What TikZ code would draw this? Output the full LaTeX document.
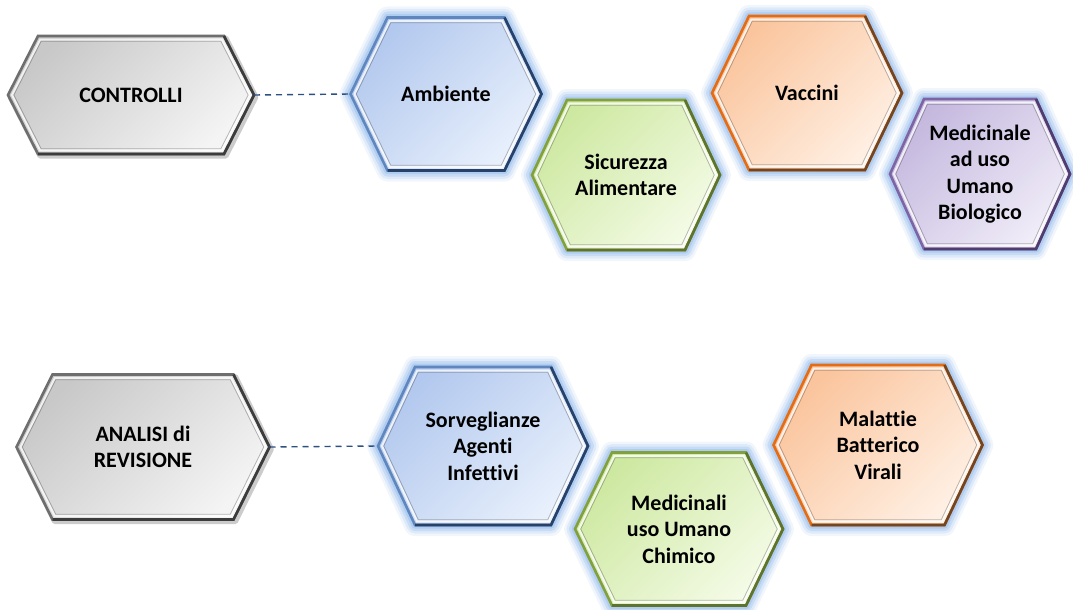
\documentclass[tikz,border=0pt]{standalone}
\usepackage{fontspec}
\setmainfont{Carlito}[Ligatures=NoCommon]
\pgfdeclarelayer{paper}
\pgfdeclarelayer{halo}
\pgfsetlayers{paper,halo,main}

% colour schemes: fill top-left / bottom-right, edge, darker edge
\definecolor{blueTop}{RGB}{178,200,238}
\definecolor{blueBot}{RGB}{232,240,252}
\definecolor{blueEdge}{RGB}{95,135,190}
\definecolor{blueDark}{RGB}{40,65,105}
\definecolor{greenTop}{RGB}{205,232,160}
\definecolor{greenBot}{RGB}{244,251,230}
\definecolor{greenEdge}{RGB}{130,160,60}
\definecolor{greenDark}{RGB}{95,115,45}
\definecolor{orangeTop}{RGB}{250,196,156}
\definecolor{orangeBot}{RGB}{255,240,228}
\definecolor{orangeEdge}{RGB}{228,108,20}
\definecolor{orangeDark}{RGB}{115,70,35}
\definecolor{purpleTop}{RGB}{196,184,222}
\definecolor{purpleBot}{RGB}{240,236,248}
\definecolor{purpleEdge}{RGB}{125,100,165}
\definecolor{purpleDark}{RGB}{80,60,110}
\definecolor{greyTop}{RGB}{200,200,200}
\definecolor{greyBot}{RGB}{244,244,244}
\definecolor{greyEdge}{RGB}{110,110,110}
\definecolor{greyDark}{RGB}{60,60,60}
\definecolor{glowblue}{RGB}{120,170,232}
\definecolor{linkblue}{RGB}{45,80,130}

% hexagon outline, inset by the amount given to \hexcalc
\newcommand\hexcalc[1]{%
  \pgfmathsetmacro\hhi{\hhh-#1}%
  \pgfmathsetmacro\hwi{\hhw-#1*sqrt(\hd*\hd+\hhh*\hhh)/\hhh}%
  \pgfmathsetmacro\hdi{\hd*\hhi/\hhh}}
\tikzset{
  hex/.style={insert path={(\hcx-\hwi,\hcy) -- (\hcx-\hwi+\hdi,\hcy-\hhi)
    -- (\hcx+\hwi-\hdi,\hcy-\hhi) -- (\hcx+\hwi,\hcy)
    -- (\hcx+\hwi-\hdi,\hcy+\hhi) -- (\hcx-\hwi+\hdi,\hcy+\hhi) -- cycle}},
  hexlr/.style={insert path={(\hcx+\hwi-\hdi,\hcy-\hhi) -- (\hcx+\hwi,\hcy)
    -- (\hcx+\hwi-\hdi,\hcy+\hhi) -- (\hcx-\hwi+\hdi,\hcy+\hhi)}},
  blue halo/.style={draw=glowblue}, green halo/.style={draw=glowblue},
  orange halo/.style={draw=glowblue}, purple halo/.style={draw=glowblue},
  grey halo/.style={draw=none},
  blue shade/.style={draw=none}, green shade/.style={draw=none},
  orange shade/.style={draw=none}, purple shade/.style={draw=none},
  grey shade/.style={draw=black},
  hextext/.style={align=center, text=black, inner sep=0pt,
    font=\bfseries\fontsize{22}{26.5}\selectfont},
  link/.style={draw=linkblue, line width=1.4, dash pattern=on 6pt off 5pt},
}

% name, centre x, centre y, width, height, slant inset, scheme, text
\newcommand\hexnode[8]{%
  \def\hcx{#2}\def\hcy{#3}\def\hd{#6}%
  \pgfmathsetmacro\hhw{#4/2}\pgfmathsetmacro\hhh{#5/2}%
  \hexcalc{0}%
  \begin{pgfonlayer}{halo}
    \foreach \gw/\go in {22/0.10,17/0.15,12/0.22,7/0.30}
      {\path[#7 halo, line width=\gw, opacity=\go, line join=round, hex];}
    \path[#7 shade, line width=5, opacity=0.2, line join=round,
      shift={(2,2)}, hex];
  \end{pgfonlayer}
  \path[top color=#7Top, bottom color=#7Bot, shading angle=45, hex];
  \hexcalc{3.6}%
  \draw[white, line width=2.0, opacity=0.75, line join=miter, hex];
  \hexcalc{5.2}%
  \draw[black, line width=0.8, opacity=0.25, line join=miter, hex];
  \hexcalc{0}%
  \draw[#7Edge, line width=2.6, line join=miter, hex];
  \draw[#7Dark, line width=2.6, line join=miter, hexlr];
  \node[hextext] (#1) at (#2,#3) {#8};
  \coordinate (#1-w) at (#2-\hhw,#3);
  \coordinate (#1-e) at (#2+\hhw,#3);
}

\begin{document}
\begin{tikzpicture}[x=1pt, y=-1pt]
  \useasboundingbox (0,0) rectangle (1073,610);
  \begin{pgfonlayer}{paper}
    \fill[white] (0,0) rectangle (1073,610);
  \end{pgfonlayer}

  % first row: controls
  \hexnode{ctrl}{131}{95}{246}{118}{30}{grey}{CONTROLLI}
  \hexnode{amb}{446}{94}{191}{153}{37}{blue}{Ambiente}
  \hexnode{sic}{626}{175}{188}{150}{35}{green}{Sicurezza\\Alimentare}
  \hexnode{vac}{807}{93}{190}{154}{37}{orange}{Vaccini}
  \hexnode{med}{980}{174}{180}{150}{34}{purple}{Medicinale\\ad uso\\Umano\\Biologico}

  % second row: review analyses
  \hexnode{ana}{143}{447}{253}{145}{36}{grey}{ANALISI di\\REVISIONE}
  \hexnode{sor}{483}{446}{210}{158}{37}{blue}{Sorveglianze\\Agenti\\Infettivi}
  \hexnode{chi}{679}{529}{208}{153}{37}{green}{Medicinali\\uso Umano\\Chimico}
  \hexnode{mal}{878}{445}{209}{160}{38}{orange}{Malattie\\Batterico\\Virali}

  % dashed links
  \draw[link] (ctrl-e) -- (amb-w);
  \draw[link] (ana-e) -- (sor-w);
\end{tikzpicture}
\end{document}
